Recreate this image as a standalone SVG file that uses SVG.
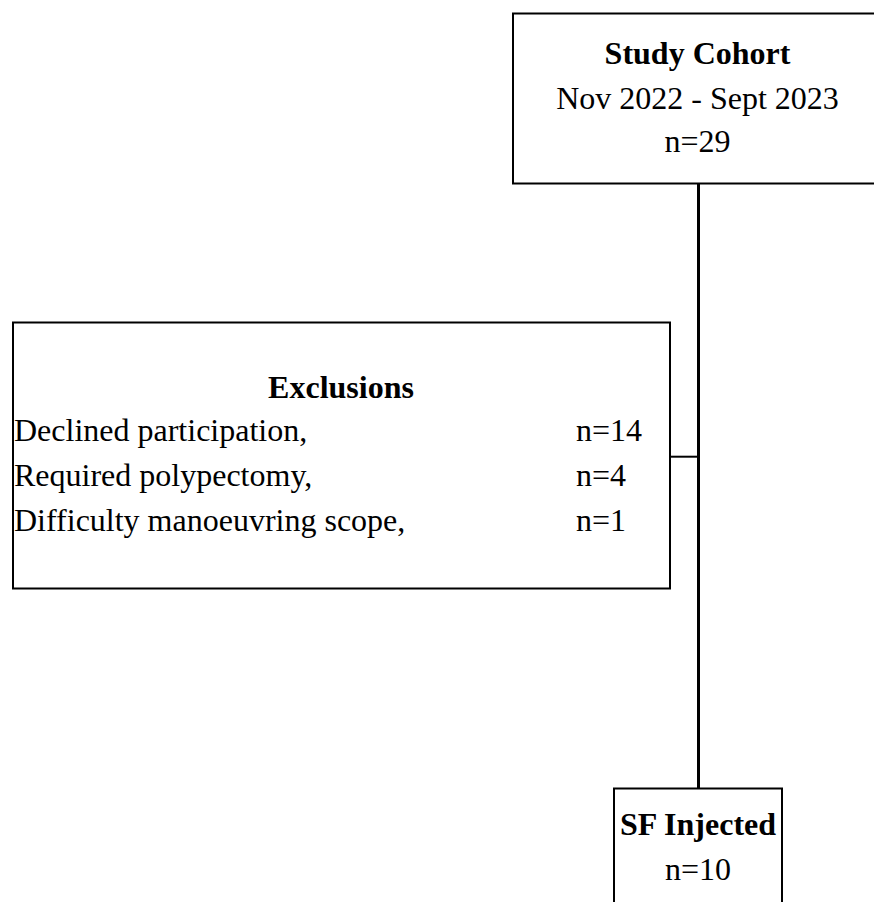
<svg xmlns="http://www.w3.org/2000/svg" width="874" height="902" viewBox="0 0 874 902">
<style>
.box{fill:#fff;stroke:#000;stroke-width:2}
.t{font-family:"Liberation Serif","Times New Roman",serif;font-size:32px;fill:#000}
.b{font-weight:bold}
.c{text-anchor:middle}
.conn{stroke:#000;fill:none}
</style>
<rect width="874" height="902" fill="#fff"/>
<g id="connectors">
<line class="conn" x1="698.5" y1="183" x2="698.5" y2="789" stroke-width="3"/>
<line class="conn" x1="670" y1="456.7" x2="698.5" y2="456.7" stroke-width="2"/>
</g>
<g id="study-cohort">
<rect class="box" x="513" y="13.5" width="370" height="170"/>
<text class="t b c" x="697.5" y="63.5">Study Cohort</text>
<text class="t c" x="697.5" y="108.5">Nov 2022 - Sept 2023</text>
<text class="t c" x="697.5" y="152">n=29</text>
</g>
<g id="exclusions">
<rect class="box" x="13" y="322.5" width="657" height="266"/>
<text class="t b c" x="341" y="397.5">Exclusions</text>
<text class="t" x="14" y="441">Declined participation,</text>
<text class="t" x="576" y="441">n=14</text>
<text class="t" x="14" y="486">Required polypectomy,</text>
<text class="t" x="576" y="486">n=4</text>
<text class="t" x="14" y="531">Difficulty manoeuvring scope,</text>
<text class="t" x="576" y="531">n=1</text>
</g>
<g id="sf-injected">
<rect class="box" x="614" y="788.5" width="168" height="130"/>
<text class="t b c" x="698" y="835">SF Injected</text>
<text class="t c" x="698" y="880">n=10</text>
</g>
</svg>
